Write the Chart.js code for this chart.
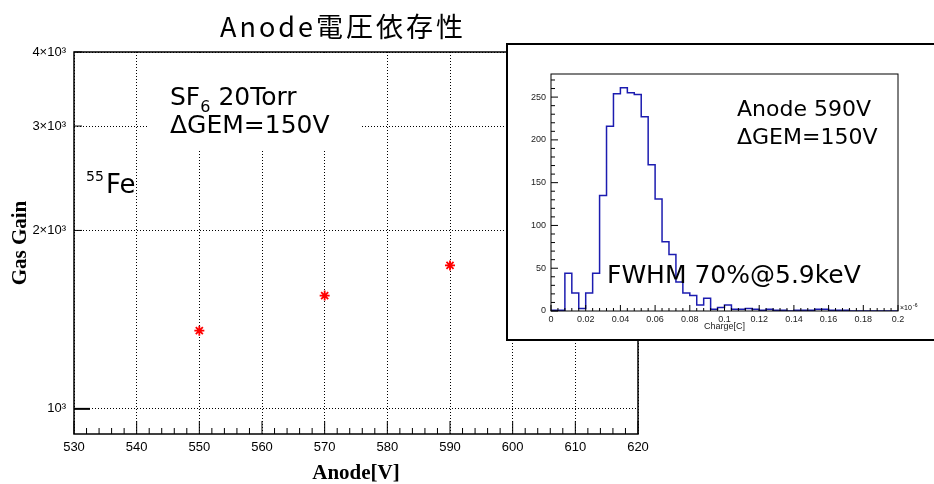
<!DOCTYPE html>
<html>
<head>
<meta charset="utf-8">
<script src="https://cdn.jsdelivr.net/npm/chart.js@4.4.0/dist/chart.umd.min.js"></script>
<style>
  html, body { margin: 0; padding: 0; background: #fff; overflow: hidden; }
  #wrap { position: relative; width: 934px; height: 484px; overflow: hidden; }
  #main { position: absolute; left: 0; top: 0; }
  #inset { position: absolute; left: 506px; top: 43px; width: 440px; height: 294px;
           border: 2px solid #000; background: #fff; }
  #insetCanvas { position: absolute; left: 0; top: 0; }
</style>
</head>
<body>
<div id="wrap">
  <canvas id="main" width="934" height="484"></canvas>
  <div id="inset"><canvas id="insetCanvas" width="426" height="294"></canvas></div>
</div>
<script>
// ---- main graph data ----
const anodeVoltage = [550, 570, 590];
const gasGain = [1355, 1553, 1746];
const xTicks = [530, 540, 550, 560, 570, 580, 590, 600, 610, 620];
const yTicks = [1000, 2000, 3000, 4000];
const yTickLabels = ['10³', '2×10³', '3×10³', '4×10³'];

// ---- inset histogram data (Charge[C] x1e-6, bin width 0.004) ----
const chargeBinWidth = 0.004;
const chargeCounts = [1, 1, 44, 21, 3, 21, 44, 135, 216, 254,
                      261, 255, 253, 227, 171, 131, 81, 66, 34, 21,
                      18, 7, 15, 2, 4, 7, 2, 2, 3, 2,
                      1, 2, 1, 1, 0, 1, 1, 1, 2, 2,
                      1, 1, 1, 0, 0, 0, 0, 0, 0, 0];
const chargeTicks = [0, 0.02, 0.04, 0.06, 0.08, 0.1, 0.12, 0.14, 0.16, 0.18, 0.2];
const countTicks = [0, 50, 100, 150, 200, 250];

const tickFont = { family: 'Liberation Sans, Arial, sans-serif', size: 13 };
const titleFont = { family: 'Liberation Serif, Times New Roman, serif', size: 21, weight: 'bold' };
const textFont = '"DejaVu Sans", sans-serif';

function line(ctx, x1, y1, x2, y2) {
  ctx.beginPath(); ctx.moveTo(x1, y1); ctx.lineTo(x2, y2); ctx.stroke();
}

// white label box, texts, ticks, frame, title
const mainDecor = {
  id: 'mainDecor',
  beforeDatasetsDraw(chart) {
    const ctx = chart.ctx;
    ctx.save();
    ctx.fillStyle = '#fff';
    ctx.fillRect(149, 54, 211, 96);
    ctx.fillStyle = '#000';
    ctx.textBaseline = 'alphabetic';
    ctx.font = '25px ' + textFont;
    ctx.fillText('SF', 170, 105);
    let w = ctx.measureText('SF').width;
    ctx.font = '16px ' + textFont;
    ctx.fillText('6', 170 + w, 112);
    let w2 = ctx.measureText('6').width;
    ctx.font = '25px ' + textFont;
    ctx.fillText(' 20Torr', 170 + w + w2, 105);
    ctx.fillText('ΔGEM=150V', 170, 133);
    ctx.font = '14px ' + textFont;
    ctx.fillText('55', 86, 181);
    ctx.font = '26px ' + textFont;
    ctx.fillText('Fe', 106, 193);
    ctx.restore();
  },
  afterDraw(chart) {
    const {ctx, chartArea: a, scales: {x, y}} = chart;
    ctx.save();
    ctx.strokeStyle = '#000';
    ctx.lineWidth = 1;
    for (let v = 530; v <= 620; v += 2) {
      const px = x.getPixelForValue(v);
      line(ctx, px, a.bottom, px, a.bottom - (v % 10 === 0 ? 13 : 6));
    }
    yTicks.forEach(v => {
      const py = y.getPixelForValue(v);
      ctx.lineWidth = v === 1000 ? 2 : 1;
      line(ctx, a.left, py, a.left + (v === 1000 ? 16 : 8), py);
    });
    ctx.lineWidth = 1.5;
    ctx.strokeRect(a.left, a.top, a.right - a.left, a.bottom - a.top);
    // title
    ctx.fillStyle = '#000';
    ctx.font = '27px "Noto Sans CJK JP", sans-serif';
    ctx.letterSpacing = '3px';
    ctx.textAlign = 'center';
    ctx.fillText('Anode電圧依存性', 343, 37);
    ctx.restore();
  }
};

new Chart(document.getElementById('main'), {
  type: 'scatter',
  data: {
    datasets: [{
      data: anodeVoltage.map((v, i) => ({ x: v, y: gasGain[i] })),
      pointStyle: 'star',
      radius: 5,
      borderColor: '#ff0000',
      backgroundColor: '#ff0000',
      borderWidth: 1.8
    }]
  },
  options: {
    responsive: false,
    animation: false,
    layout: { padding: { top: 52, right: 296, left: 0, bottom: 0 } },
    plugins: { legend: { display: false }, tooltip: { enabled: false } },
    scales: {
      x: {
        type: 'linear', min: 530, max: 620,
        afterBuildTicks: s => { s.ticks = xTicks.map(v => ({ value: v })); },
        afterFit: s => { s.height = 50; },
        grid: { color: '#000', lineWidth: 1, drawTicks: false },
        border: { display: false, dash: [1, 2] },
        ticks: { font: tickFont, color: '#000', padding: 6, maxRotation: 0,
                 callback: v => String(v) },
        title: { display: true, text: 'Anode[V]', color: '#000', font: titleFont,
                 padding: { top: 0, bottom: -2 } }
      },
      y: {
        type: 'logarithmic', min: 907, max: 4000,
        afterBuildTicks: s => { s.ticks = yTicks.map(v => ({ value: v })); },
        afterFit: s => { s.width = 74; },
        grid: { color: '#000', lineWidth: 1, drawTicks: false },
        border: { display: false, dash: [1, 2] },
        ticks: { font: tickFont, color: '#000', padding: 8,
                 callback: v => yTickLabels[yTicks.indexOf(v)] },
        title: { display: true, text: 'Gas Gain', color: '#000', font: titleFont,
                 padding: { top: 8, bottom: 0 } }
      }
    }
  },
  plugins: [mainDecor]
});

// ---- inset ----
const insetDecor = {
  id: 'insetDecor',
  afterDraw(chart) {
    const {ctx, chartArea: a, scales: {x, y}} = chart;
    ctx.save();
    ctx.strokeStyle = '#000';
    ctx.lineWidth = 1;
    for (let v = 0; v <= 50; v++) {
      const px = x.getPixelForValue(v * 0.004);
      line(ctx, px, a.bottom, px, a.bottom - (v % 5 === 0 ? 6 : 3));
    }
    for (let v = 0; v <= 270; v += 10) {
      const py = y.getPixelForValue(v);
      line(ctx, a.left, py, a.left + (v % 50 === 0 ? 7 : 4), py);
    }
    ctx.strokeRect(a.left, a.top, a.right - a.left, a.bottom - a.top);
    ctx.fillStyle = '#000';
    ctx.font = '7px Liberation Sans, Arial, sans-serif';
    ctx.fillText('×10', a.right + 2, a.bottom - 1);
    ctx.font = '5px Liberation Sans, Arial, sans-serif';
    ctx.fillText('-6', a.right + 15, a.bottom - 4);
    ctx.font = '22px ' + textFont;
    ctx.fillText('Anode 590V', 229, 71);
    ctx.fillText('ΔGEM=150V', 229, 99);
    ctx.font = '25px ' + textFont;
    ctx.fillText('FWHM 70%@5.9keV', 99, 238);
    ctx.restore();
  }
};

const histPoints = chargeCounts.map((c, i) => ({ x: i * chargeBinWidth, y: c }));
histPoints.push({ x: chargeCounts.length * chargeBinWidth, y: chargeCounts[chargeCounts.length - 1] });

const smallFont = { family: 'Liberation Sans, Arial, sans-serif', size: 9 };
new Chart(document.getElementById('insetCanvas'), {
  type: 'line',
  data: {
    datasets: [{
      data: histPoints,
      stepped: true,
      borderColor: '#1c1cb0',
      borderWidth: 1.5,
      pointRadius: 0,
      fill: false
    }]
  },
  options: {
    responsive: false,
    animation: false,
    layout: { padding: { top: 29, right: 36, left: 0, bottom: 0 } },
    plugins: { legend: { display: false }, tooltip: { enabled: false } },
    scales: {
      x: {
        type: 'linear', min: 0, max: 0.2,
        afterBuildTicks: s => { s.ticks = chargeTicks.map(v => ({ value: v })); },
        afterFit: s => { s.height = 28; },
        grid: { display: false, drawTicks: false },
        border: { display: false },
        ticks: { font: smallFont, color: '#222', padding: 3, maxRotation: 0,
                 callback: v => String(v) },
        title: { display: true, text: 'Charge[C]', color: '#222', font: smallFont,
                 padding: { top: 0, bottom: 7 } }
      },
      y: {
        type: 'linear', min: 0, max: 277,
        afterBuildTicks: s => { s.ticks = countTicks.map(v => ({ value: v })); },
        afterFit: s => { s.width = 43; },
        grid: { display: false, drawTicks: false },
        border: { display: false },
        ticks: { font: smallFont, color: '#222', padding: 5, callback: v => String(v) }
      }
    }
  },
  plugins: [insetDecor]
});
</script>
</body>
</html>
